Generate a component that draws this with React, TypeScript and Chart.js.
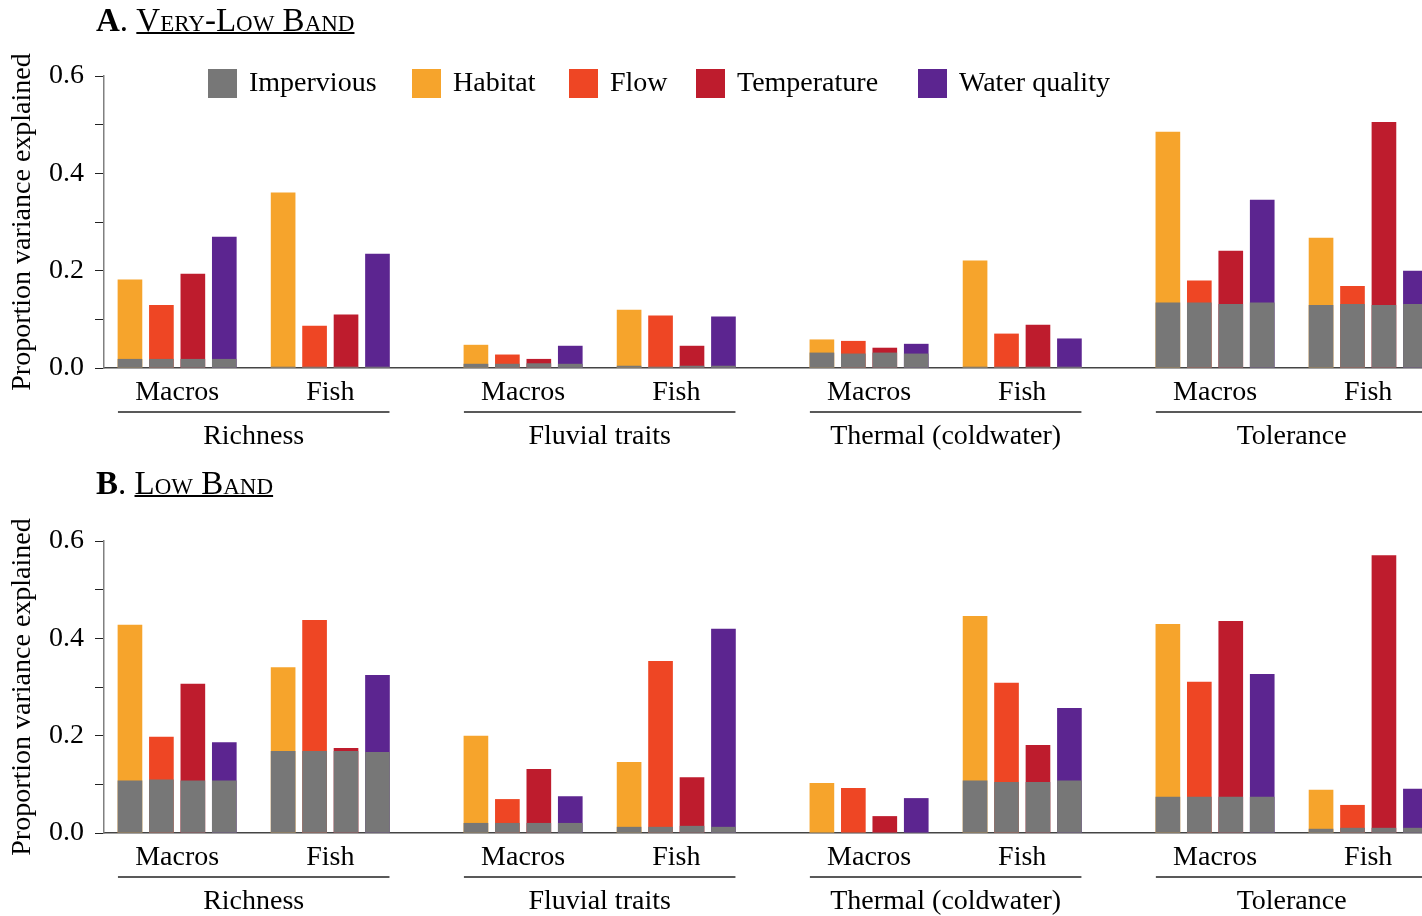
import React, { useEffect, useRef } from 'react';
import { Chart, registerables } from 'chart.js';

Chart.register(...registerables);

const FONT = "'Liberation Serif', 'Times New Roman', serif";

// ---------- categories ----------
const groups = ['Richness', 'Fluvial traits', 'Thermal (coldwater)', 'Tolerance'];
const taxa = ['Macros', 'Fish'];
const predictors = ['Habitat', 'Flow', 'Temperature', 'Water quality'];
const imperviousLabel = 'Impervious';
const yTickLabels = ['0.0', '', '0.2', '', '0.4', '', '0.6'];

// ---------- data ----------
// value order: Richness-Macros, Richness-Fish, Fluvial-Macros, Fluvial-Fish,
//              Thermal-Macros, Thermal-Fish, Tolerance-Macros, Tolerance-Fish
// totals = top of each bar; *Imp = impervious (grey) part of that bar

// A. Very-low band
const habitatA = [0.181, 0.360, 0.047, 0.119, 0.058, 0.220, 0.485, 0.267];
const flowA = [0.129, 0.086, 0.027, 0.107, 0.055, 0.070, 0.179, 0.168];
const temperatureA = [0.193, 0.109, 0.018, 0.045, 0.041, 0.088, 0.240, 0.505];
const waterQualityA = [0.269, 0.234, 0.045, 0.105, 0.049, 0.060, 0.345, 0.199];
const habitatImpA = [0.018, 0.002, 0.008, 0.004, 0.031, 0.002, 0.134, 0.129];
const flowImpA = [0.018, 0.002, 0.008, 0.002, 0.029, 0.002, 0.134, 0.131];
const temperatureImpA = [0.018, 0.002, 0.009, 0.004, 0.031, 0.002, 0.131, 0.129];
const waterQualityImpA = [0.018, 0.002, 0.008, 0.004, 0.029, 0.002, 0.134, 0.131];

// B. Low band
const habitatB = [0.427, 0.340, 0.199, 0.145, 0.102, 0.445, 0.429, 0.088];
const flowB = [0.197, 0.437, 0.069, 0.353, 0.092, 0.308, 0.310, 0.057];
const temperatureB = [0.306, 0.174, 0.131, 0.114, 0.034, 0.180, 0.435, 0.570];
const waterQualityB = [0.186, 0.324, 0.075, 0.419, 0.071, 0.256, 0.326, 0.090];
const habitatImpB = [0.107, 0.168, 0.020, 0.012, 0, 0.107, 0.074, 0.008];
const flowImpB = [0.109, 0.168, 0.020, 0.012, 0, 0.104, 0.074, 0.010];
const temperatureImpB = [0.107, 0.168, 0.020, 0.014, 0, 0.104, 0.074, 0.010];
const waterQualityImpB = [0.107, 0.166, 0.020, 0.012, 0, 0.107, 0.074, 0.010];

// ---------- styles ----------
const imperviousColor = '#777777';
const predictorColors = ['#F6A42C', '#EE4624', '#BE1C2D', '#5C2590'];

// ---------- layout ----------
const GROUP_PERIOD = 11;
const FISH_OFFSET = 4.87;
const BAR_PX = 24;
const X_MIN = -0.825;
const X_MAX = 41.08;
const CANVAS_W = 1422;
const AREA_TOP = 76;
const AREA_H = 292;
const FONT_SIZE = 28;
const legendX = [208, 412, 569, 696, 918];

function xPos(combo: number, p: number) {
  const g = Math.floor(combo / 2);
  const t = combo % 2;
  return g * GROUP_PERIOD + t * FISH_OFFSET + p;
}

function buildDatasets(totals: number[][], imps: number[][]) {
  const impData: { x: number; y: number }[] = [];
  for (let c = 0; c < 8; c++) {
    for (let p = 0; p < predictors.length; p++) {
      impData.push({ x: xPos(c, p), y: imps[p][c] });
    }
  }
  const ds: any[] = [
    {
      label: imperviousLabel,
      data: impData,
      backgroundColor: imperviousColor,
      order: 0,
      grouped: false,
      barThickness: BAR_PX,
      borderWidth: 0,
    },
  ];
  predictors.forEach((name, p) => {
    ds.push({
      label: name,
      data: totals[p].map((v, c) => ({ x: xPos(c, p), y: v })),
      backgroundColor: predictorColors[p],
      order: 1,
      grouped: false,
      barThickness: BAR_PX,
      borderWidth: 0,
    });
  });
  return ds;
}

const groupLabelPlugin = {
  id: 'groupLabels',
  afterDraw(chart: any) {
    const { ctx, chartArea } = chart;
    const x = chart.scales.x;
    ctx.save();
    ctx.font = `${FONT_SIZE}px ${FONT}`;
    ctx.fillStyle = '#000';
    ctx.strokeStyle = '#222';
    ctx.lineWidth = 1.5;
    ctx.textAlign = 'center';
    ctx.textBaseline = 'alphabetic';
    groups.forEach((name, g) => {
      const x1 = x.getPixelForValue(xPos(2 * g, 0)) - BAR_PX / 2;
      const x2 = x.getPixelForValue(xPos(2 * g + 1, 3)) + BAR_PX / 2;
      const yLine = chartArea.bottom + 44;
      ctx.beginPath();
      ctx.moveTo(x1, yLine);
      ctx.lineTo(x2, yLine);
      ctx.stroke();
      ctx.fillText(name, (x1 + x2) / 2, chartArea.bottom + 76);
    });
    ctx.restore();
  },
};

const insideLegendPlugin = {
  id: 'insideLegend',
  afterDraw(chart: any) {
    const { ctx } = chart;
    ctx.save();
    ctx.font = `${FONT_SIZE}px ${FONT}`;
    ctx.textAlign = 'left';
    ctx.textBaseline = 'alphabetic';
    chart.data.datasets.forEach((ds: any, i: number) => {
      const x = legendX[i];
      const y = 69;
      ctx.fillStyle = ds.backgroundColor;
      ctx.fillRect(x, y, 29, 29);
      ctx.fillStyle = '#000';
      ctx.fillText(ds.label, x + 41, 91);
    });
    ctx.restore();
  },
};

function Panel(props: {
  top: number;
  height: number;
  totals: number[][];
  imps: number[][];
  legend: boolean;
}) {
  const ref = useRef<HTMLCanvasElement | null>(null);
  useEffect(() => {
    if (!ref.current) return;
    const xAxisH = props.height - AREA_TOP - AREA_H;
    const plugins: any[] = [groupLabelPlugin];
    if (props.legend) plugins.push(insideLegendPlugin);
    const chart = new Chart(ref.current, {
      type: 'bar',
      data: { datasets: buildDatasets(props.totals, props.imps) },
      plugins,
      options: {
        animation: false,
        responsive: false,
        maintainAspectRatio: false,
        layout: { padding: { top: AREA_TOP, left: 0, right: 0, bottom: 0 } },
        plugins: {
          legend: { display: false },
          tooltip: { enabled: false },
          title: { display: false },
        },
        scales: {
          x: {
            type: 'linear',
            min: X_MIN,
            max: X_MAX,
            offset: false,
            grid: { display: false, offset: false },
            border: { display: true, color: '#444', width: 1.5 },
            afterBuildTicks: (scale: any) => {
              const ticks: { value: number }[] = [];
              for (let c = 0; c < 8; c++) ticks.push({ value: xPos(c, 1.5) });
              scale.ticks = ticks;
            },
            afterFit: (scale: any) => {
              scale.height = xAxisH;
            },
            ticks: {
              autoSkip: false,
              maxRotation: 0,
              minRotation: 0,
              padding: 0,
              color: '#000',
              font: { family: FONT, size: FONT_SIZE },
              callback: (_v: any, i: number) => taxa[i % 2],
            },
          },
          y: {
            min: 0,
            max: 0.6,
            grid: {
              drawOnChartArea: false,
              drawTicks: true,
              tickLength: 9,
              color: '#222',
              lineWidth: 1,
            },
            border: { display: true, color: '#808080', width: 1.5 },
            afterFit: (scale: any) => {
              scale.width = 104;
            },
            ticks: {
              stepSize: 0.1,
              autoSkip: false,
              padding: 11,
              color: '#000',
              font: { family: FONT, size: FONT_SIZE },
              callback: (_v: any, i: number) => yTickLabels[i] ?? '',
            },
            title: {
              display: true,
              text: 'Proportion variance explained',
              color: '#000',
              font: { family: FONT, size: FONT_SIZE },
              padding: { top: 6, bottom: 0 },
            },
          },
        },
      } as any,
    });
    return () => chart.destroy();
  }, []);
  return (
    <canvas
      ref={ref}
      width={CANVAS_W}
      height={props.height}
      style={{
        position: 'absolute',
        left: 0,
        top: props.top,
        width: CANVAS_W,
        height: props.height,
        display: 'block',
      }}
    />
  );
}

function PanelTitle(props: { top: number; letter: string; text: string }) {
  return (
    <div
      style={{
        position: 'absolute',
        left: 96,
        top: props.top,
        fontFamily: FONT,
        fontSize: 33,
        lineHeight: '33px',
        color: '#000',
        whiteSpace: 'nowrap',
      }}
    >
      <b>{props.letter}</b>.{' '}
      <span style={{ fontVariant: 'small-caps', textDecoration: 'underline', textDecorationThickness: '1.5px' }}>
        {props.text}
      </span>
    </div>
  );
}

export default function App() {
  return (
    <div
      style={{
        position: 'fixed',
        left: 0,
        top: 0,
        width: CANVAS_W,
        height: 916,
        overflow: 'hidden',
        background: '#fff',
      }}
    >
      <Panel
        top={0}
        height={460}
        totals={[habitatA, flowA, temperatureA, waterQualityA]}
        imps={[habitatImpA, flowImpA, temperatureImpA, waterQualityImpA]}
        legend={true}
      />
      <Panel
        top={465}
        height={451}
        totals={[habitatB, flowB, temperatureB, waterQualityB]}
        imps={[habitatImpB, flowImpB, temperatureImpB, waterQualityImpB]}
        legend={false}
      />
      <PanelTitle top={4} letter="A" text="Very-Low Band" />
      <PanelTitle top={467} letter="B" text="Low Band" />
    </div>
  );
}
